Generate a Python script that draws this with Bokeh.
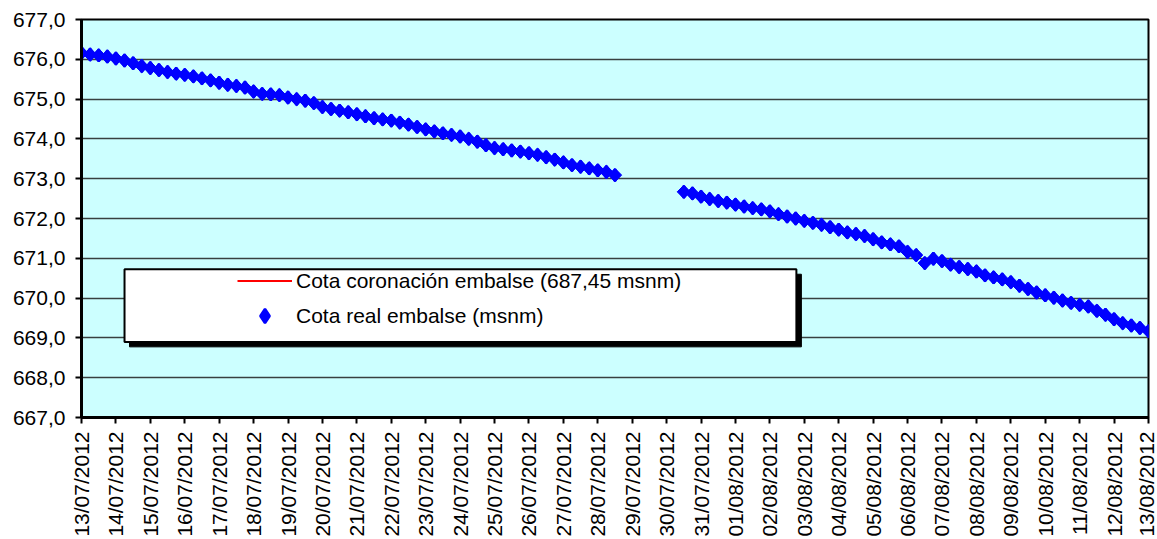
import math
import pandas as pd
from bokeh.plotting import figure
from bokeh.models import (Range1d, FixedTicker, DatetimeTickFormatter, CustomJSTickFormatter,
                          Legend, LegendItem, BoxAnnotation, ColumnDataSource)
from bokeh.embed import file_html
from bokeh.resources import INLINE

# ---------------- data ----------------
tick_labels = ["13/07/2012", "14/07/2012", "15/07/2012", "16/07/2012", "17/07/2012", "18/07/2012",
               "19/07/2012", "20/07/2012", "21/07/2012", "22/07/2012", "23/07/2012", "24/07/2012",
               "25/07/2012", "26/07/2012", "27/07/2012", "28/07/2012", "29/07/2012", "30/07/2012",
               "31/07/2012", "01/08/2012", "02/08/2012", "03/08/2012", "04/08/2012", "05/08/2012",
               "06/08/2012", "07/08/2012", "08/08/2012", "09/08/2012", "10/08/2012", "11/08/2012",
               "12/08/2012", "13/08/2012"]

y_ticks = [667, 668, 669, 670, 671, 672, 673, 674, 675, 676, 677]

# readings every 6 hours, first block
block1_start = "13/07/2012 00:00"
block1_values = [676.16, 676.12, 676.10, 676.07, 676.02, 675.97, 675.90, 675.83, 675.78, 675.73,
                 675.68, 675.64, 675.61, 675.57, 675.52, 675.47, 675.41, 675.36, 675.33, 675.29,
                 675.19, 675.13, 675.12, 675.10, 675.04, 675.00, 674.96, 674.90, 674.80, 674.75,
                 674.71, 674.67, 674.62, 674.57, 674.52, 674.49, 674.46, 674.41, 674.36, 674.30,
                 674.24, 674.19, 674.14, 674.10, 674.06, 674.00, 673.93, 673.84, 673.77, 673.74,
                 673.71, 673.68, 673.64, 673.60, 673.54, 673.48, 673.41, 673.34, 673.30, 673.26,
                 673.21, 673.17, 673.09]

# second block (after the gap)
block2_start = "30/07/2012 12:00"
block2_values = [672.67, 672.63, 672.55, 672.49, 672.44, 672.40, 672.35, 672.30, 672.26, 672.23,
                 672.18, 672.11, 672.05, 672.00, 671.94, 671.89, 671.84, 671.78, 671.72, 671.65,
                 671.61, 671.56, 671.48, 671.40, 671.35, 671.30, 671.16, 671.08, 670.88, 670.99,
                 670.93, 670.84, 670.78, 670.73, 670.67, 670.57, 670.52, 670.47, 670.40, 670.31,
                 670.23, 670.14, 670.07, 670.01, 669.94, 669.88, 669.83, 669.79, 669.68, 669.58,
                 669.47, 669.37, 669.31, 669.25, 669.17]

coronacion_value = 687.45

legend_labels = ["Cota coronación embalse (687,45 msnm)", "Cota real embalse (msnm)"]

# ---------------- build ----------------
FONT = "Liberation Sans"

tick_dates = pd.to_datetime(tick_labels, format="%d/%m/%Y")
t1 = pd.date_range(pd.to_datetime(block1_start, format="%d/%m/%Y %H:%M"), periods=len(block1_values), freq="6h")
t2 = pd.date_range(pd.to_datetime(block2_start, format="%d/%m/%Y %H:%M"), periods=len(block2_values), freq="6h")

src = ColumnDataSource(dict(x=list(t1) + list(t2), y=block1_values + block2_values))
cor_src = ColumnDataSource(dict(x=[tick_dates[0], tick_dates[-1]], y=[coronacion_value, coronacion_value]))

x0 = tick_dates[0]
x1 = tick_dates[-1]

p = figure(width=1157, height=539, output_backend="svg", toolbar_location=None,
           x_axis_type="datetime",
           x_range=Range1d(x0, x1), y_range=Range1d(y_ticks[0], y_ticks[-1]),
           min_border_left=81, min_border_right=9, min_border_top=19, min_border_bottom=120)

p.background_fill_color = "#CCFFFF"
p.border_fill_color = "white"
p.outline_line_color = "black"
p.outline_line_width = 2

# grid
p.xgrid.grid_line_color = None
p.ygrid.grid_line_color = "#384040"
p.ygrid.grid_line_width = 1.4
p.ygrid.ticker = FixedTicker(ticks=y_ticks)

# y axis
p.yaxis.ticker = FixedTicker(ticks=y_ticks)
p.yaxis.formatter = CustomJSTickFormatter(code="return tick.toFixed(1).replace('.', ',');")
# x axis
ms = [(d - pd.Timestamp("1970-01-01")) / pd.Timedelta(milliseconds=1) for d in tick_dates]
p.xaxis.ticker = FixedTicker(ticks=ms)
fmt = "%d/%m/%Y"
p.xaxis.formatter = DatetimeTickFormatter(milliseconds=fmt, seconds=fmt, minsec=fmt, minutes=fmt,
                                          hourmin=fmt, hours=fmt, days=fmt, months=fmt, years=fmt)
p.xaxis.major_label_orientation = math.pi / 2

for ax in (p.xaxis, p.yaxis):
    ax.axis_line_color = "black"
    ax.axis_line_width = 3
    ax.major_tick_line_color = "black"
    ax.major_tick_line_width = 2
    ax.major_tick_in = 0
    ax.major_tick_out = 6
    ax.minor_tick_line_color = None
    ax.major_label_text_font = FONT
    ax.major_label_text_font_size = "21px"
    ax.major_label_text_color = "black"
p.yaxis.major_label_standoff = 10
p.xaxis.major_label_standoff = 8

# legend box (shadow + white box), placed in plot coordinates
day = pd.Timedelta(days=1)
shadow = BoxAnnotation(left=x0 + 1.395 * day, right=x0 + 20.915 * day, top=670.60, bottom=668.775,
                       fill_color="black", fill_alpha=1, line_color="black", line_alpha=1)
box = BoxAnnotation(left=x0 + 1.25 * day, right=x0 + 20.77 * day, top=670.725, bottom=668.90,
                    fill_color="white", fill_alpha=1, line_color="black", line_width=2, line_alpha=1)
p.add_layout(shadow)
p.add_layout(box)

# series
r_cor = p.line("x", "y", source=cor_src, line_color="#FF0000", line_width=2)
r_pts = p.scatter("x", "y", source=src, marker="square", angle=math.pi / 4, size=9.4,
                  fill_color="#0000FF", line_color="#0000FF")
# legend sample for the diamond series (drawn only in the legend)
r_leg = p.scatter("x", "y", source=src, marker="diamond", size=12,
                  fill_color="#0000FF", line_color="#0000FF", line_width=2.5, alpha=0)
r_leg.glyph.fill_alpha = 1
r_leg.glyph.line_alpha = 1

legend = Legend(items=[LegendItem(label=legend_labels[0], renderers=[r_cor]),
                       LegendItem(label=legend_labels[1], renderers=[r_leg])],
                location=(156, 84), padding=0, spacing=0, margin=0,
                glyph_width=55, glyph_height=35, label_height=35, label_standoff=4,
                border_line_alpha=0, background_fill_alpha=0,
                label_text_font=FONT, label_text_font_size="21px", label_text_color="black")
p.add_layout(legend)

open("out.html", "w").write(file_html(p, INLINE))
